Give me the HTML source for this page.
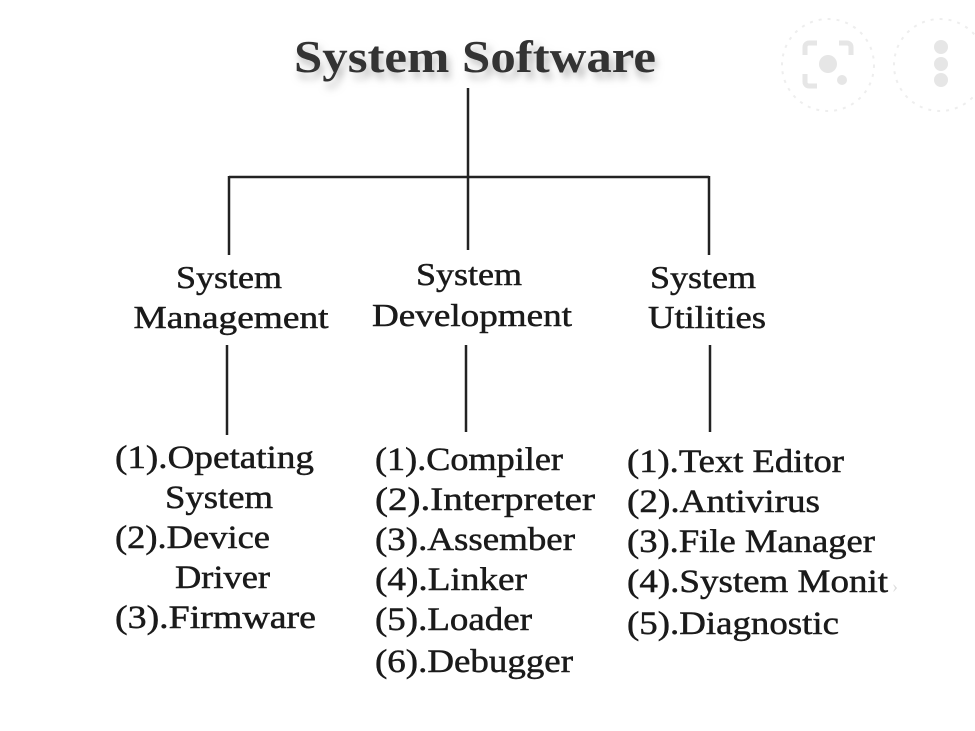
<!DOCTYPE html>
<html><head><meta charset="utf-8"><style>
html,body{margin:0;padding:0;background:#fff;}
svg{display:block}
text{font-family:"Liberation Serif",serif;fill:#1a1a1a;stroke:#1a1a1a;stroke-width:0.5;}
</style></head><body>
<svg width="975" height="731" viewBox="0 0 975 731">
<defs><filter id="sh" x="-10%" y="-50%" width="120%" height="200%"><feGaussianBlur stdDeviation="4"/></filter></defs>
<g fill="none" stroke="#eee" stroke-width="2" stroke-dasharray="3 6">
<circle cx="828" cy="65" r="46"/><circle cx="940" cy="65" r="46"/></g>
<g fill="#e6e6e6"><circle cx="828" cy="64" r="9"/><circle cx="842" cy="80" r="5"/>
<circle cx="941" cy="47" r="7"/><circle cx="941" cy="64" r="7"/><circle cx="941" cy="80" r="7"/></g>
<g fill="none" stroke="#e6e6e6" stroke-width="5"><path d="M805 55v-8a4 4 0 0 1 4-4h8M839 43h8a4 4 0 0 1 4 4v8M805 74v8a4 4 0 0 0 4 4h8"/></g>
<text x="296" y="78" font-size="46" textLength="362" lengthAdjust="spacingAndGlyphs" style="fill:#aaa;stroke:none" filter="url(#sh)">System Software</text>
<text x="294" y="72" font-size="46" textLength="362" lengthAdjust="spacingAndGlyphs" font-weight="bold" style="fill:#333;stroke:none">System Software</text>
<g stroke="#222" stroke-width="2.5" fill="none">
<path d="M468 88V250M229 177H709M229 176V255M709 176V255M227 345V435M466 345V432M710 345V432"/>
</g>
<g font-size="32" text-anchor="middle">
<text x="229" y="288" textLength="106" lengthAdjust="spacingAndGlyphs">System</text><text x="231" y="328" textLength="195" lengthAdjust="spacingAndGlyphs">Management</text>
<text x="469" y="285" textLength="106" lengthAdjust="spacingAndGlyphs">System</text><text x="472" y="326" textLength="200" lengthAdjust="spacingAndGlyphs">Development</text>
<text x="703" y="288" textLength="106" lengthAdjust="spacingAndGlyphs">System</text><text x="707" y="328" textLength="118" lengthAdjust="spacingAndGlyphs">Utilities</text>
</g>
<g font-size="33" lengthAdjust="spacingAndGlyphs">
<text x="115" y="468" textLength="199" lengthAdjust="spacingAndGlyphs">(1).Opetating</text>
<text x="165" y="508" textLength="108" lengthAdjust="spacingAndGlyphs">System</text>
<text x="115" y="548" textLength="155" lengthAdjust="spacingAndGlyphs">(2).Device</text>
<text x="175" y="588" textLength="95" lengthAdjust="spacingAndGlyphs">Driver</text>
<text x="115" y="628" textLength="201" lengthAdjust="spacingAndGlyphs">(3).Firmware</text>
<text x="375" y="470" textLength="188" lengthAdjust="spacingAndGlyphs">(1).Compiler</text>
<text x="375" y="510" textLength="220" lengthAdjust="spacingAndGlyphs">(2).Interpreter</text>
<text x="375" y="550" textLength="200" lengthAdjust="spacingAndGlyphs">(3).Assember</text>
<text x="375" y="590" textLength="152" lengthAdjust="spacingAndGlyphs">(4).Linker</text>
<text x="375" y="630" textLength="157" lengthAdjust="spacingAndGlyphs">(5).Loader</text>
<text x="375" y="672" textLength="198" lengthAdjust="spacingAndGlyphs">(6).Debugger</text>
<text x="627" y="472" textLength="217" lengthAdjust="spacingAndGlyphs">(1).Text Editor</text>
<text x="627" y="512" textLength="193" lengthAdjust="spacingAndGlyphs">(2).Antivirus</text>
<text x="627" y="552" textLength="248" lengthAdjust="spacingAndGlyphs">(3).File Manager</text>
<text x="627" y="592" textLength="261" lengthAdjust="spacingAndGlyphs">(4).System Monit</text>
<text x="627" y="634" textLength="212" lengthAdjust="spacingAndGlyphs">(5).Diagnostic</text>
</g>
<text x="892" y="592" font-size="18" style="fill:#ddd;stroke:none">›</text>
</svg>
</body></html>
